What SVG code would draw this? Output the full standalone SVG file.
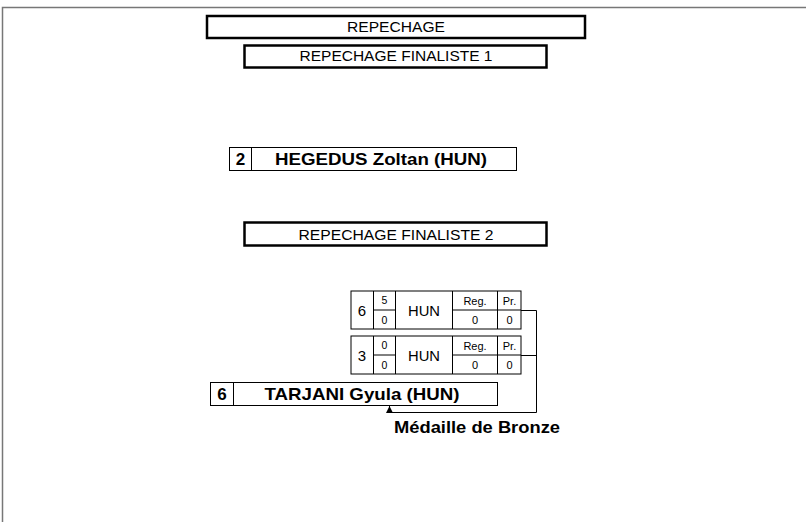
<svg xmlns="http://www.w3.org/2000/svg" width="806" height="522" viewBox="0 0 806 522">
<defs>
<style>
.frame{fill:none;stroke:#777;stroke-width:1.5}
.hdr{fill:#fff;stroke:#000;stroke-width:2.5}
.box{fill:#fff;stroke:#000;stroke-width:1}
.ln{fill:none;stroke:#000;stroke-width:1}
text{font-family:"Liberation Sans",Arial,sans-serif;fill:#000;text-anchor:middle}
.t14{font-size:14px}
.b17{font-size:17px;font-weight:bold}
.s10{font-size:10.5px}
.s11{font-size:11px}
.n14{font-size:15px}
.s13{font-size:14px}
</style>
<marker id="ah" viewBox="0 0 10 10" refX="10" refY="5" markerWidth="7" markerHeight="7" orient="auto" markerUnits="userSpaceOnUse">
<path d="M0,0 L10,5 L0,10 z" fill="#000"/>
</marker>
</defs>
<rect width="806" height="522" fill="#fff"/>
<path class="frame" d="M2.5,522 V7.5 H806"/>

<g id="hdr-repechage">
<rect class="hdr" x="207" y="16" width="378" height="22"/>
<text class="t14" x="396" y="31.5" textLength="98" lengthAdjust="spacingAndGlyphs">REPECHAGE</text>
</g>
<g id="hdr-finaliste1">
<rect class="hdr" x="244.5" y="45.5" width="302" height="22"/>
<text class="t14" x="396" y="60.5" textLength="193" lengthAdjust="spacingAndGlyphs">REPECHAGE FINALISTE 1</text>
</g>
<g id="finaliste1">
<rect class="box" x="229.5" y="147.5" width="287" height="23"/>
<line class="ln" x1="251.5" y1="147.5" x2="251.5" y2="170.5"/>
<text class="b17" x="240.5" y="165">2</text>
<text class="b17" x="381" y="165" textLength="212" lengthAdjust="spacingAndGlyphs">HEGEDUS Zoltan (HUN)</text>
</g>
<g id="hdr-finaliste2">
<rect class="hdr" x="244.5" y="222.5" width="302" height="23"/>
<text class="t14" x="396" y="240" textLength="195" lengthAdjust="spacingAndGlyphs">REPECHAGE FINALISTE 2</text>
</g>

<g id="match1">
<rect class="box" x="351" y="291" width="170" height="38"/>
<line class="ln" x1="373.5" y1="291" x2="373.5" y2="329"/>
<line class="ln" x1="395.5" y1="291" x2="395.5" y2="329"/>
<line class="ln" x1="452.5" y1="291" x2="452.5" y2="329"/>
<line class="ln" x1="497.5" y1="291" x2="497.5" y2="329"/>
<line class="ln" x1="373.5" y1="310" x2="395.5" y2="310"/>
<line class="ln" x1="452.5" y1="310" x2="521" y2="310"/>
<text class="n14" x="362" y="316">6</text>
<text class="s10" x="384.5" y="304">5</text>
<text class="s10" x="384.5" y="323.5">0</text>
<text class="s13" x="424" y="315.5" textLength="32" lengthAdjust="spacingAndGlyphs">HUN</text>
<text class="s11" x="475" y="304.5">Reg.</text>
<text class="s11" x="509.5" y="304.5">Pr.</text>
<text class="s11" x="475" y="324">0</text>
<text class="s11" x="509.5" y="324">0</text>
</g>

<g id="match2">
<rect class="box" x="351" y="336" width="170" height="38"/>
<line class="ln" x1="373.5" y1="336" x2="373.5" y2="374"/>
<line class="ln" x1="395.5" y1="336" x2="395.5" y2="374"/>
<line class="ln" x1="452.5" y1="336" x2="452.5" y2="374"/>
<line class="ln" x1="497.5" y1="336" x2="497.5" y2="374"/>
<line class="ln" x1="373.5" y1="355" x2="395.5" y2="355"/>
<line class="ln" x1="452.5" y1="355" x2="521" y2="355"/>
<text class="n14" x="362" y="361">3</text>
<text class="s10" x="384.5" y="349">0</text>
<text class="s10" x="384.5" y="368.5">0</text>
<text class="s13" x="424" y="360.5" textLength="32" lengthAdjust="spacingAndGlyphs">HUN</text>
<text class="s11" x="475" y="349.5">Reg.</text>
<text class="s11" x="509.5" y="349.5">Pr.</text>
<text class="s11" x="475" y="369">0</text>
<text class="s11" x="509.5" y="369">0</text>
</g>

<g id="winner">
<rect class="box" x="210.5" y="382.5" width="287" height="23"/>
<line class="ln" x1="233.5" y1="382.5" x2="233.5" y2="405.5"/>
<text class="b17" x="222" y="400">6</text>
<text class="b17" x="362" y="400" textLength="195" lengthAdjust="spacingAndGlyphs">TARJANI Gyula (HUN)</text>
</g>

<g id="connectors">
<path class="ln" d="M521,310.5 H536.5 V412.5 H389.5 V406" marker-end="url(#ah)"/>
<path class="ln" d="M521,355.5 H536.5"/>
</g>

<text class="b17" x="477" y="433" textLength="166" lengthAdjust="spacingAndGlyphs">Médaille de Bronze</text>
</svg>
